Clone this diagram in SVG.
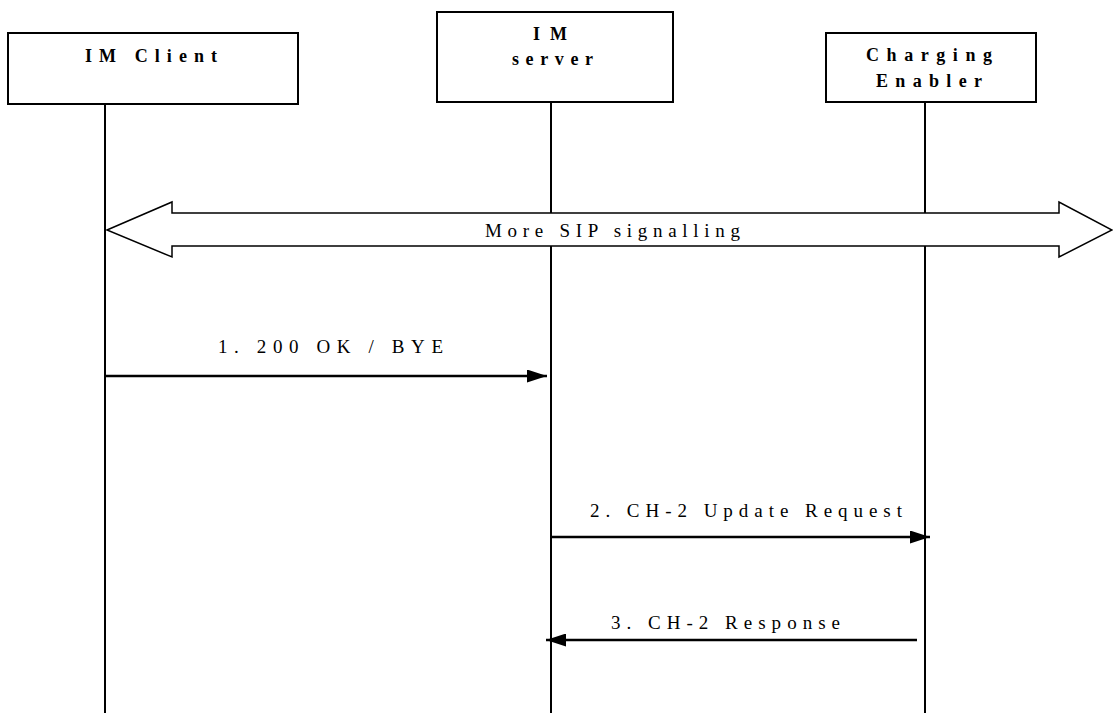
<svg xmlns="http://www.w3.org/2000/svg" width="1113" height="713" viewBox="0 0 1113 713">
<defs>
<marker id="ah" markerWidth="20" markerHeight="13" refX="20" refY="6.5" orient="auto" markerUnits="userSpaceOnUse">
<path d="M0,0 L20,6.5 L0,13 Z" fill="#000"/>
</marker>
</defs>
<rect width="1113" height="713" fill="#fff"/>
<g id="lifelines" stroke="#000" stroke-width="2" fill="none">
<line x1="105" y1="104" x2="105" y2="713"/>
<line x1="551" y1="102" x2="551" y2="713"/>
<line x1="925" y1="102" x2="925" y2="713"/>
</g>
<g id="node-im-client" font-family="'Times New Roman', 'Liberation Serif', serif" font-weight="bold" font-size="18">
<rect x="8" y="33" width="290" height="71" fill="#fff" stroke="#000" stroke-width="2"/>
<text x="85" y="62" textLength="132" lengthAdjust="spacing">IM Client</text>
</g>
<g id="node-im-server" font-family="'Times New Roman', 'Liberation Serif', serif" font-weight="bold" font-size="18">
<rect x="437" y="12" width="236" height="90" fill="#fff" stroke="#000" stroke-width="2"/>
<text x="533" y="40" textLength="34" lengthAdjust="spacing">IM</text>
<text x="512" y="65" textLength="81" lengthAdjust="spacing">server</text>
</g>
<g id="node-charging-enabler" font-family="'Times New Roman', 'Liberation Serif', serif" font-weight="bold" font-size="18">
<rect x="826" y="33" width="210" height="69" fill="#fff" stroke="#000" stroke-width="2"/>
<text x="866" y="61" textLength="126" lengthAdjust="spacing">Charging</text>
<text x="876" y="87" textLength="106" lengthAdjust="spacing">Enabler</text>
</g>
<g id="connectors" font-family="'Times New Roman', 'Liberation Serif', serif" font-size="19">
<path d="M107,230 L172,202 L172,213 L1059,213 L1059,202 L1112,230 L1059,257 L1059,246 L172,246 L172,257 Z" fill="#fff" stroke="#000" stroke-width="1.5"/>
<text x="485" y="237" textLength="255" lengthAdjust="spacing">More SIP signalling</text>
<line x1="106" y1="376" x2="547" y2="376" stroke="#000" stroke-width="2.5" marker-end="url(#ah)"/>
<text x="218" y="353" textLength="225" lengthAdjust="spacing">1. 200 OK / BYE</text>
<line x1="552" y1="537" x2="930" y2="537" stroke="#000" stroke-width="2.5" marker-end="url(#ah)"/>
<text x="590" y="517" textLength="312" lengthAdjust="spacing">2. CH-2 Update Request</text>
<line x1="917" y1="640" x2="546" y2="640" stroke="#000" stroke-width="2.5" marker-end="url(#ah)"/>
<text x="611" y="629" textLength="229" lengthAdjust="spacing">3. CH-2 Response</text>
</g>
</svg>
